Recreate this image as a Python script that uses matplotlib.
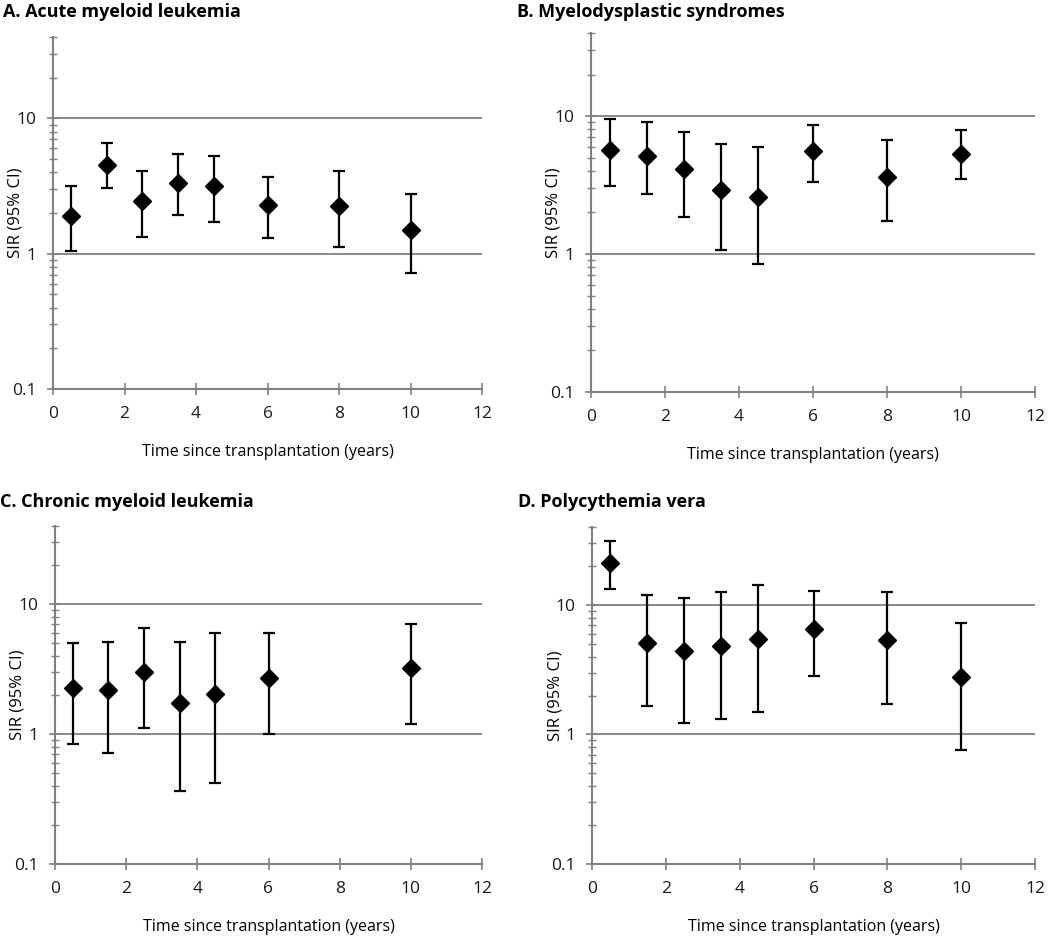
import numpy as np
import matplotlib
matplotlib.use("Agg")
import matplotlib.pyplot as plt
from matplotlib.ticker import LogLocator, FixedLocator, NullFormatter, FuncFormatter

plt.rcParams["font.family"] = ["Open Sans", "DejaVu Sans"]

# Time since transplantation (years)
years = [0.5, 1.5, 2.5, 3.5, 4.5, 6, 8, 10]
years_cml = [0.5, 1.5, 2.5, 3.5, 4.5, 6, 10]

# A. Acute myeloid leukemia
aml_sir = [1.91, 4.52, 2.44, 3.35, 3.14, 2.29, 2.26, 1.51]
aml_lo = [1.05, 3.06, 1.34, 1.94, 1.73, 1.30, 1.13, 0.72]
aml_hi = [3.18, 6.53, 4.06, 5.42, 5.30, 3.69, 4.06, 2.78]

# B. Myelodysplastic syndromes
mds_sir = [5.67, 5.16, 4.11, 2.91, 2.59, 5.61, 3.59, 5.30]
mds_lo = [3.11, 2.71, 1.86, 1.07, 0.85, 3.34, 1.74, 3.50]
mds_hi = [9.50, 9.05, 7.70, 6.27, 5.96, 8.60, 6.70, 7.87]

# C. Chronic myeloid leukemia
cml_sir = [2.28, 2.20, 3.03, 1.75, 2.05, 2.70, 3.23]
cml_lo = [0.84, 0.71, 1.11, 0.363, 0.42, 1.00, 1.19]
cml_hi = [5.03, 5.12, 6.57, 5.12, 5.97, 5.97, 7.10]

# D. Polycythemia vera
pv_sir = [21.1, 5.05, 4.41, 4.85, 5.43, 6.49, 5.36, 2.79]
pv_lo = [13.4, 1.65, 1.22, 1.31, 1.48, 2.81, 1.72, 0.757]
pv_hi = [31.0, 11.9, 11.3, 12.5, 14.2, 12.8, 12.5, 7.26]

W, H = 1050, 938
GRAY = "#808080"


def px_rect(left, top, right, bottom):
    return [left / W, 1 - bottom / H, (right - left) / W, (bottom - top) / H]


def draw_panel(fig, box, x, sir, lo, hi, title, title_xy):
    left, top, right, bottom = box
    ax = fig.add_axes(px_rect(*box))
    sir = np.array(sir)
    yerr = [sir - np.array(lo), np.array(hi) - sir]
    ax.errorbar(x, sir, yerr=yerr, fmt="D", color="black", ms=9.5,
                elinewidth=1.6, capsize=4, capthick=1.6, zorder=3)
    ax.set_yscale("log")
    ax.set_ylim(0.1, 40)
    ax.set_xlim(0, 12)
    ax.set_xticks(range(0, 13, 2))
    ax.yaxis.set_major_locator(FixedLocator([0.1, 1, 10]))
    ax.yaxis.set_major_formatter(FuncFormatter(lambda v, p: f"{v:g}"))
    ax.yaxis.set_minor_locator(LogLocator(base=10, subs=np.arange(2, 10)))
    ax.yaxis.set_minor_formatter(NullFormatter())
    for v in (1, 10):
        ax.axhline(v, color=GRAY, lw=1.3, zorder=1)
    for side in ("top", "right"):
        ax.spines[side].set_visible(False)
    for side in ("left", "bottom"):
        ax.spines[side].set_color(GRAY)
        ax.spines[side].set_linewidth(1.5)
    ax.tick_params(axis="both", which="major", direction="inout", length=8,
                   width=1.2, color=GRAY, labelsize=12.5, labelcolor="#1a1a1a")
    ax.tick_params(axis="y", which="minor", direction="inout", length=6,
                   width=1.0, color=GRAY)
    ax.tick_params(axis="y", pad=8)
    ax.tick_params(axis="x", pad=8)
    ax.set_xlabel("Time since transplantation (years)", fontsize=11.5, labelpad=16)
    ax.set_ylabel("SIR (95% CI)", fontsize=12)
    # y label sits close to the axis, between the tick labels
    ax.yaxis.set_label_coords(-29 / (right - left), 0.5)
    fig.text(title_xy[0] / W, 1 - title_xy[1] / H, title, fontsize=13,
             fontweight="bold", ha="left", va="center")
    return ax


fig = plt.figure(figsize=(W / 100, H / 100), dpi=100)

draw_panel(fig, (53, 37, 482, 389), years, aml_sir, aml_lo, aml_hi,
           "A. Acute myeloid leukemia", (3, 12))
draw_panel(fig, (591, 33, 1035, 392), years, mds_sir, mds_lo, mds_hi,
           "B. Myelodysplastic syndromes", (517, 12))
draw_panel(fig, (55, 526, 482, 864), years_cml, cml_sir, cml_lo, cml_hi,
           "C. Chronic myeloid leukemia", (0, 502))
draw_panel(fig, (592, 527, 1035, 864), years, pv_sir, pv_lo, pv_hi,
           "D. Polycythemia vera", (518, 502))

fig.savefig("out.png", dpi=100)
